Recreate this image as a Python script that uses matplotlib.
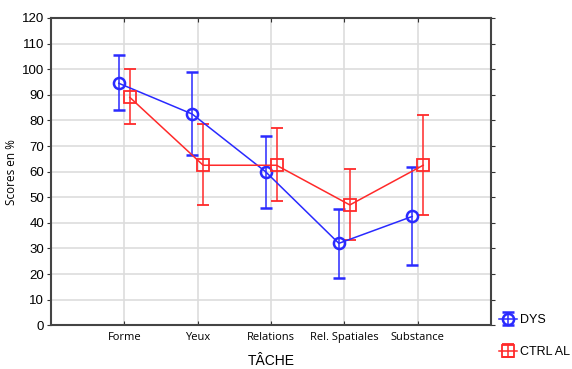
import matplotlib
matplotlib.use("Agg")
import matplotlib.pyplot as plt
import numpy as np

categories = ["Forme", "Yeux", "Relations", "Rel. Spatiales", "Substance"]
dys_mean = [94.5, 82.5, 60.0, 32.0, 42.5]
dys_low = [84.0, 66.5, 46.0, 18.5, 23.5]
dys_high = [105.5, 99.0, 74.0, 45.5, 62.0]
ctrl_mean = [89.0, 62.5, 62.5, 47.0, 62.5]
ctrl_low = [78.5, 47.0, 48.5, 33.5, 43.0]
ctrl_high = [100.0, 78.5, 77.0, 61.0, 82.0]
yticks = list(range(0, 121, 10))

plt.rcParams['font.family'] = ['Liberation Sans', 'DejaVu Sans']

fig = plt.figure(figsize=(5.72, 3.69), dpi=100)
W, H = 572, 369
ax = fig.add_axes([51 / W, 1 - 325.3 / H, (491 - 51) / W, (325.3 - 18) / H])

x = np.arange(1, len(categories) + 1)
off = 0.075
dm = np.array(dys_mean); cm = np.array(ctrl_mean)
e1 = ax.errorbar(x - off, dm, yerr=[dm - np.array(dys_low), np.array(dys_high) - dm],
                 color='#2a2aff', marker='o', ms=8, mfc='none', mew=1.8, lw=1.1,
                 capsize=4, elinewidth=1.1, capthick=1.1, label='DYS', zorder=3)
e2 = ax.errorbar(x + off, cm, yerr=[cm - np.array(ctrl_low), np.array(ctrl_high) - cm],
                 color='#ff2a2a', marker='s', ms=8, mfc='none', mew=1.3, lw=1.1,
                 capsize=4, elinewidth=1.1, capthick=1.1, label='CTRL AL', zorder=3)

ax.set_xlim(0, 6)
ax.set_ylim(0, 120)
ax.set_xticks(x)
ax.set_xticklabels(categories, fontsize=8, family=['Open Sans', 'DejaVu Sans'])
ax.set_yticks(yticks)
ax.tick_params(axis='y', labelsize=9.5, length=3, direction='out', right=True, color='#333333', pad=2)
ax.tick_params(axis='x', length=3, direction='in', top=True, color='#333333', pad=5)
ax.grid(True, color='#dddddd', lw=1.2)
ax.set_axisbelow(True)
for s in ax.spines.values():
    s.set_color('#444444')
    s.set_linewidth(1.5)

ax.set_ylabel('Scores en %', fontsize=8.5, family=['Open Sans', 'DejaVu Sans'])
ax.yaxis.set_label_coords((18 - 51) / 440, 0.5)
ax.set_xlabel('TÂCHE', fontsize=10, labelpad=8)

leg = fig.legend(handles=[e1, e2], labels=['DYS', 'CTRL AL'], loc='upper left',
                 bbox_to_anchor=(494 / W, 1 - 309 / H), frameon=False, fontsize=9,
                 handlelength=1.4, labelspacing=1.6, handletextpad=0.3, borderaxespad=0)

fig.savefig('out.png', dpi=100)
